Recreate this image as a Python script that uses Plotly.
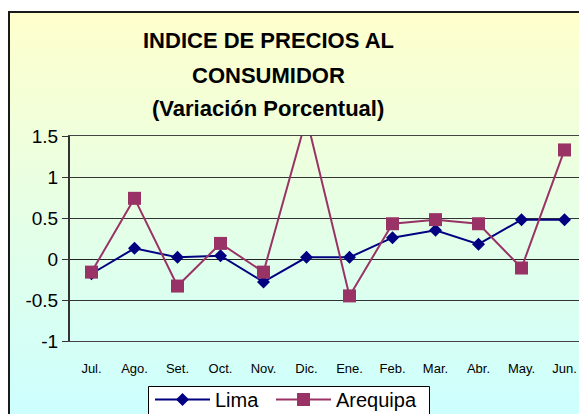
import base64
import plotly.graph_objects as go

# ---- data ----
months = ["Jul.", "Ago.", "Set.", "Oct.", "Nov.", "Dic.", "Ene.", "Feb.", "Mar.", "Abr.", "May.", "Jun."]
lima = [-0.18, 0.13, 0.02, 0.04, -0.28, 0.02, 0.02, 0.26, 0.35, 0.18, 0.48, 0.48]
arequipa = [-0.16, 0.74, -0.33, 0.19, -0.16, 1.72, -0.45, 0.43, 0.48, 0.43, -0.11, 1.33]
y_ticks = [-1, -0.5, 0, 0.5, 1, 1.5]
y_tick_labels = ["-1", "-0.5", "0", "0.5", "1", "1.5"]
title_lines = ["INDICE DE PRECIOS AL", "CONSUMIDOR", "(Variación Porcentual)"]

W, H = 579, 414
PL, PR, PT, PB = 70, 579, 136, 341  # plot area in px
CAT_W = 43.0

def px_x(px):
    return (px - PL) / (PR - PL)

def px_y(py):
    return (PB - py) / (PB - PT)

idx = list(range(len(months)))
xr = [-0.5, -0.5 + (PR - PL) / CAT_W]

FONT = "Arial, 'Liberation Sans', sans-serif"

fig = go.Figure()
fig.add_trace(go.Scatter(
    x=idx, y=lima, name="Lima", mode="lines+markers", legend="legend",
    line=dict(color="#000080", width=2),
    marker=dict(symbol="diamond", size=10, color="#000080"),
))
fig.add_trace(go.Scatter(
    x=idx, y=arequipa, name="Arequipa", mode="lines+markers", legend="legend2",
    line=dict(color="#993366", width=2),
    marker=dict(symbol="square", size=13, color="#993366"),
))

svg = ("<svg xmlns='http://www.w3.org/2000/svg' width='100' height='100' preserveAspectRatio='none'>"
       "<defs><linearGradient id='g' x1='0' y1='0' x2='0' y2='1'>"
       "<stop offset='0' stop-color='#FFFFCC'/><stop offset='1' stop-color='#CCFFFF'/>"
       "</linearGradient></defs><rect width='100' height='100' fill='url(#g)'/></svg>")
src = "data:image/svg+xml;base64," + base64.b64encode(svg.encode()).decode()

annotations = []
for line, py in zip(title_lines, [40, 75, 108]):
    annotations.append(dict(
        text=line, xref="paper", yref="paper", x=px_x(268), y=px_y(py),
        xanchor="center", yanchor="middle", showarrow=False,
        font=dict(family=FONT, size=22, color="black", weight="bold"),
    ))

legend_common = dict(
    orientation="h", xref="container", yref="container",
    y=(H - 380) / H, xanchor="left", yanchor="top",
    bgcolor="rgba(0,0,0,0)", borderwidth=0,
    font=dict(family=FONT, size=20, color="black"),
    itemwidth=55,
)

fig.update_layout(
    width=W, height=H,
    margin=dict(l=PL, r=W - PR, t=PT, b=H - PB, pad=0, autoexpand=False),
    paper_bgcolor="white", plot_bgcolor="white",
    showlegend=True,
    legend=dict(x=150 / W, **legend_common),
    legend2=dict(x=271 / W, **legend_common),
    images=[dict(
        source=src, xref="paper", yref="paper",
        x=px_x(10), y=px_y(12), sizex=(W - 10) / (PR - PL), sizey=(H - 12 + 5) / (PB - PT),
        xanchor="left", yanchor="top", sizing="stretch", layer="below",
    )],
    shapes=[
        dict(type="rect", xref="paper", yref="paper",
             x0=px_x(9), x1=px_x(W + 20), y0=px_y(H + 20), y1=px_y(12),
             line=dict(color="#1a1a1a", width=2), fillcolor="rgba(0,0,0,0)", layer="above"),
        dict(type="rect", xref="paper", yref="paper",
             x0=px_x(148.5), x1=px_x(429.5), y0=px_y(H + 10), y1=px_y(386.5),
             line=dict(color="black", width=1), fillcolor="white", layer="above"),
    ],
    annotations=annotations,
    xaxis=dict(
        range=xr, tickvals=idx, ticktext=months,
        showgrid=False, zeroline=False,
        showline=True, mirror=True, linecolor="#444", linewidth=1,
        ticks="outside", ticklen=15, tickcolor="rgba(0,0,0,0)",
        tickfont=dict(family=FONT, size=13, color="black"),
    ),
    xaxis2=dict(
        overlaying="x", anchor="free", position=px_y(259), side="bottom",
        range=xr, tickvals=[i + 0.5 for i in idx[:-1]], showticklabels=False,
        ticks="outside", ticklen=4, tickcolor="#222", tickwidth=1,
        showgrid=False, zeroline=False, showline=False,
    ),
    yaxis=dict(
        range=[-1, 1.5], tickvals=y_ticks, ticktext=y_tick_labels,
        showgrid=True, gridcolor="#333", gridwidth=1,
        zeroline=True, zerolinecolor="#222", zerolinewidth=1,
        showline=True, linecolor="#333", linewidth=2,
        ticks="outside", ticklen=6, tickcolor="#333",
        tickfont=dict(family=FONT, size=19, color="black"),
    ),
)

fig.write_html("out.html", config={"displayModeBar": False},
               post_script="document.body.style.margin='0';document.body.style.overflow='hidden';")
